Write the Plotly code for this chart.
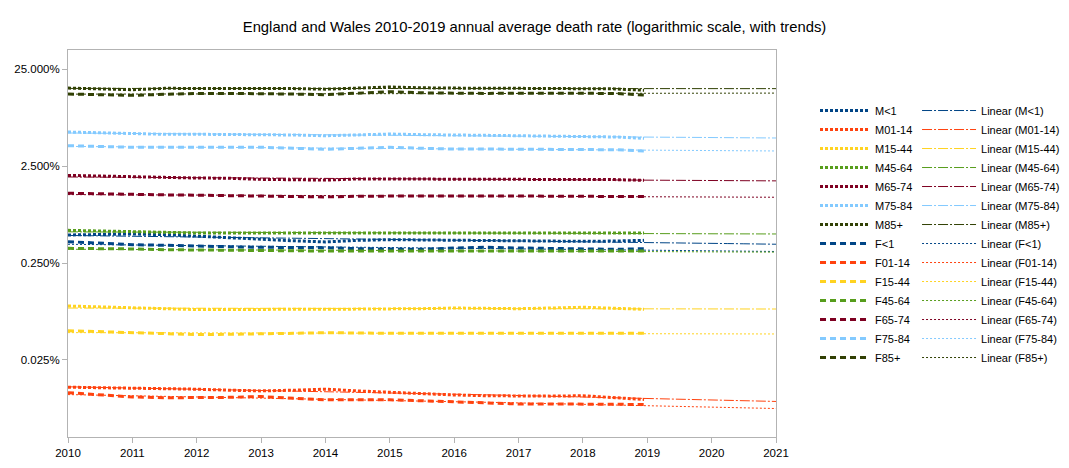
import numpy as np
import plotly.graph_objects as go

# ---- data (annual average death rate, in percent) ----
years = [2010.0, 2010.5, 2011.0, 2011.5, 2012.0, 2012.5, 2013.0, 2013.5, 2014.0, 2014.5,
         2015.0, 2015.5, 2016.0, 2016.5, 2017.0, 2017.5, 2018.0, 2018.5, 2018.95]

age_groups = ["<1", "01-14", "15-44", "45-64", "65-74", "75-84", "85+"]
colors = ["#004586", "#ff420e", "#ffd320", "#579d1c", "#7e0021", "#83caff", "#314004"]

m_lt1 = [0.486, 0.490, 0.498, 0.490, 0.471, 0.453, 0.439, 0.424, 0.412, 0.428,
         0.435, 0.432, 0.428, 0.428, 0.428, 0.424, 0.418, 0.421, 0.428]
m_01_14 = [0.0131, 0.0130, 0.0128, 0.0126, 0.0125, 0.0122, 0.0120, 0.0122, 0.0125, 0.0120,
           0.0116, 0.0112, 0.0109, 0.0107, 0.0106, 0.0106, 0.0107, 0.0102, 0.0098]
m_15_44 = [0.0901, 0.0886, 0.0865, 0.0845, 0.0827, 0.0833, 0.0839, 0.0833, 0.0833, 0.0833,
           0.0839, 0.0845, 0.0859, 0.0845, 0.0845, 0.0859, 0.0874, 0.0853, 0.0833]
m_45_64 = [0.543, 0.534, 0.526, 0.518, 0.510, 0.510, 0.510, 0.510, 0.501, 0.506,
           0.510, 0.506, 0.506, 0.510, 0.510, 0.510, 0.510, 0.510, 0.510]
m_65_74 = [2.00, 1.96, 1.93, 1.91, 1.88, 1.87, 1.82, 1.82, 1.79, 1.84,
           1.84, 1.84, 1.84, 1.84, 1.84, 1.84, 1.84, 1.81, 1.78]
m_75_84 = [5.60, 5.47, 5.34, 5.31, 5.31, 5.31, 5.31, 5.22, 5.13, 5.22,
           5.34, 5.26, 5.18, 5.18, 5.13, 5.06, 5.06, 4.98, 4.83]
m_85p = [15.9, 15.6, 15.3, 15.8, 15.8, 15.8, 15.8, 15.7, 15.5, 15.9,
         16.3, 16.0, 15.8, 15.8, 15.8, 15.8, 15.8, 15.6, 15.1]

f_lt1 = [0.415, 0.399, 0.386, 0.381, 0.372, 0.368, 0.363, 0.363, 0.360, 0.351,
         0.349, 0.346, 0.357, 0.363, 0.357, 0.354, 0.349, 0.346, 0.351]
f_01_14 = [0.0115, 0.0110, 0.0104, 0.0102, 0.0102, 0.0103, 0.0105, 0.0101, 0.0097, 0.0097,
           0.0097, 0.0095, 0.0093, 0.0090, 0.0088, 0.0088, 0.0088, 0.0087, 0.0087]
f_15_44 = [0.0501, 0.0490, 0.0483, 0.0471, 0.0457, 0.0460, 0.0463, 0.0471, 0.0478, 0.0471,
           0.0471, 0.0471, 0.0471, 0.0467, 0.0471, 0.0471, 0.0471, 0.0471, 0.0471]
f_45_64 = [0.354, 0.354, 0.349, 0.343, 0.340, 0.338, 0.335, 0.332, 0.332, 0.332,
           0.332, 0.332, 0.335, 0.332, 0.332, 0.335, 0.335, 0.332, 0.332]
f_65_74 = [1.31, 1.29, 1.26, 1.26, 1.25, 1.24, 1.23, 1.21, 1.20, 1.22,
           1.23, 1.23, 1.23, 1.23, 1.23, 1.23, 1.23, 1.21, 1.21]
f_75_84 = [4.05, 3.95, 3.90, 3.90, 3.90, 3.90, 3.90, 3.81, 3.72, 3.81,
           3.90, 3.81, 3.74, 3.74, 3.74, 3.72, 3.72, 3.68, 3.57]
f_85p = [13.8, 13.6, 13.4, 13.7, 14.0, 14.0, 14.0, 13.8, 13.6, 14.0,
         14.6, 14.2, 14.0, 14.0, 14.1, 14.0, 14.0, 14.0, 13.5]

male_series = [m_lt1, m_01_14, m_15_44, m_45_64, m_65_74, m_75_84, m_85p]
female_series = [f_lt1, f_01_14, f_15_44, f_45_64, f_65_74, f_75_84, f_85p]

trend_span = [2010, 2021]
x_ticks = list(range(2010, 2022))
y_ticks = [0.00025, 0.0025, 0.025, 0.25]

title = "England and Wales 2010-2019 annual average death rate (logarithmic scale, with trends)"

FONT = "Liberation Sans, Arial, sans-serif"

fig = go.Figure()

trend_x = np.linspace(trend_span[0], trend_span[1], 45)

def add_series(prefix, series_list, dash, trend_dash):
    for grp, col, vals in zip(age_groups, colors, series_list):
        name = prefix + grp
        y = np.array(vals) / 100.0
        fig.add_trace(go.Scatter(
            x=years, y=y, mode="lines", name=name, legend="legend",
            line=dict(color=col, width=3, dash=dash),
        ))
        slope, intercept = np.polyfit(years, y, 1)
        fig.add_trace(go.Scatter(
            x=trend_x, y=intercept + slope * trend_x, mode="lines",
            name="Linear (" + name + ")", legend="legend2",
            line=dict(color=col, width=1, dash=trend_dash),
        ))

add_series("M", male_series, "3px,2px", "10px,2px,2px,2px")
add_series("F", female_series, "6px,4px", "2px,2px")

axis_col = "#b3b3b3"
fig.update_xaxes(
    range=[trend_span[0], trend_span[1]], tickvals=x_ticks, ticktext=[str(v) for v in x_ticks],
    showgrid=False, zeroline=False, showline=True, linecolor=axis_col, linewidth=1,
    mirror=True, ticks="outside", ticklen=5, tickcolor=axis_col,
    tickfont=dict(family=FONT, size=11.5, color="black"),
)
fig.update_yaxes(
    type="log", range=[-4.396, -0.406], tickvals=y_ticks, tickformat=".3%",
    showgrid=False, zeroline=False, showline=True, linecolor=axis_col, linewidth=1,
    mirror=True, ticks="outside", ticklen=5, tickcolor=axis_col,
    tickfont=dict(family=FONT, size=11.5, color="black"),
)

# page body has an 8px margin: figure is 1061x460 drawn from (8, 8)
W, H = 1061, 460
legend_common = dict(orientation="v", xanchor="left", y=0.5245, yanchor="middle",
                     traceorder="normal", font=dict(family=FONT, size=11, color="black"),
                     bgcolor="rgba(0,0,0,0)", borderwidth=0)

fig.update_layout(
    width=W, height=H,
    margin=dict(l=60, r=293, t=42, b=31, autoexpand=False),
    paper_bgcolor="white", plot_bgcolor="white",
    font=dict(family=FONT, size=12, color="black"),
    title=dict(text=title, x=526.5 / W, xref="container", xanchor="center",
               y=1 - 19 / H, yref="container", yanchor="middle",
               font=dict(family=FONT, size=14.8, color="black")),
    showlegend=True,
    legend=dict(x=1.0551, itemwidth=50, **legend_common),
    legend2=dict(x=1.1992, itemwidth=54, **legend_common),
)

fig.write_html("out.html")
